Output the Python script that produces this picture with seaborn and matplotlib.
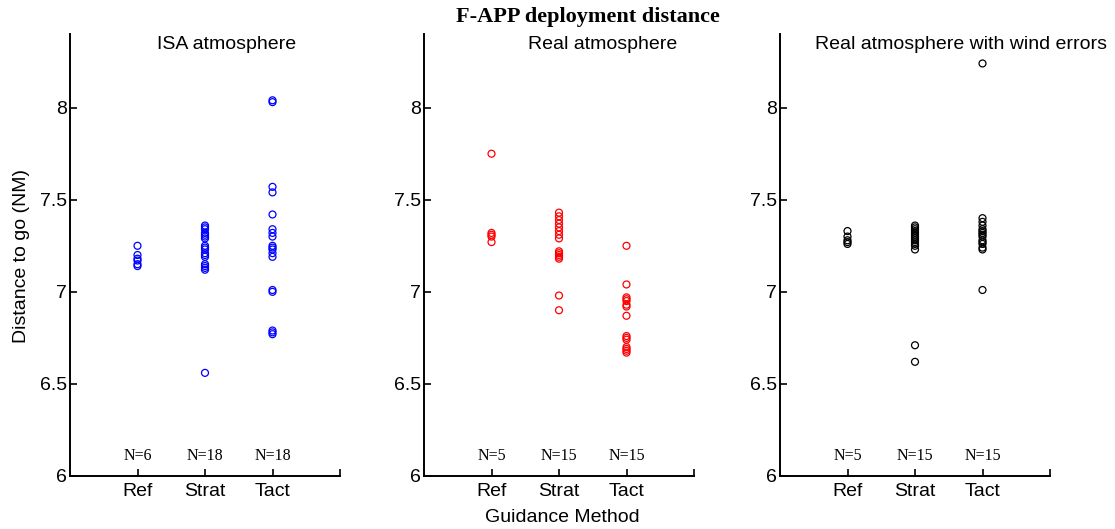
import numpy as np
import pandas as pd
import matplotlib
matplotlib.use("Agg")
import matplotlib.pyplot as plt
import seaborn as sns

sns.set_theme(style="white")
plt.rcParams['font.family'] = ['Liberation Sans', 'DejaVu Sans']
plt.rcParams['text.color'] = 'black'
plt.rcParams['axes.labelcolor'] = 'black'

methods = ["Ref", "Strat", "Tact"]
panel_titles = ["ISA atmosphere", "Real atmosphere", "Real atmosphere with wind errors"]
panel_colors = ["#0000ff", "#ff0000", "#000000"]

# Deployment distance (NM) per guidance method, ISA atmosphere
isa_ref = [7.25, 7.20, 7.18, 7.17, 7.15, 7.14]
isa_strat = [7.36, 7.35, 7.34, 7.32, 7.31, 7.30, 7.29, 7.25, 7.24, 7.23,
             7.21, 7.20, 7.19, 7.15, 7.14, 7.13, 7.12, 6.56]
isa_tact = [8.04, 8.03, 7.57, 7.54, 7.42, 7.34, 7.32, 7.30, 7.25, 7.24,
            7.23, 7.21, 7.19, 7.01, 7.00, 6.79, 6.78, 6.77]

# Real atmosphere
real_ref = [7.75, 7.32, 7.31, 7.30, 7.27]
real_strat = [7.43, 7.41, 7.39, 7.37, 7.35, 7.33, 7.31, 7.29, 7.22, 7.21,
              7.20, 7.19, 7.18, 6.98, 6.90]
real_tact = [7.25, 7.04, 6.97, 6.96, 6.95, 6.93, 6.92, 6.87, 6.76, 6.75,
             6.74, 6.70, 6.69, 6.68, 6.67]

# Real atmosphere with wind errors
wind_ref = [7.33, 7.30, 7.28, 7.27, 7.26]
wind_strat = [7.36, 7.35, 7.34, 7.33, 7.32, 7.31, 7.30, 7.29, 7.28, 7.27,
              7.26, 7.25, 7.23, 6.71, 6.62]
wind_tact = [8.24, 7.40, 7.38, 7.36, 7.34, 7.33, 7.32, 7.31, 7.30, 7.28,
             7.27, 7.26, 7.24, 7.23, 7.01]

panels = [
    [isa_ref, isa_strat, isa_tact],
    [real_ref, real_strat, real_tact],
    [wind_ref, wind_strat, wind_tact],
]

W, H = 1115, 529
fig = plt.figure(figsize=(W / 100, H / 100), dpi=100)

lefts = [70, 424, 780]
title_x = [0.58, 0.663, 0.669]
ax_w, top_px, bot_px = 270, 34, 476

for i, groups in enumerate(panels):
    ax = fig.add_axes([lefts[i] / W, 1 - bot_px / H, ax_w / W, (bot_px - top_px) / H])
    df = pd.DataFrame({
        "method": np.repeat(methods, [len(g) for g in groups]),
        "distance": np.concatenate(groups),
    })
    sns.stripplot(data=df, x="method", y="distance", order=methods, jitter=False,
                  color=panel_colors[i], marker="o", size=5, linewidth=0.9, ax=ax)
    for coll in ax.collections:
        coll.set_facecolor("none")
        coll.set_edgecolor(panel_colors[i])
        coll.set_linewidth(0.9)

    ax.set_xlim(-1, 3)
    ax.set_ylim(6, 8.4)
    ax.set_xticks([0, 1, 2, 3])
    ax.set_xticklabels(methods + [""])
    ax.set_yticks([6, 6.5, 7, 7.5, 8])
    ax.set_yticklabels(["6", "6.5", "7", "7.5", "8"])
    ax.set_xlabel("")
    ax.set_ylabel("")
    for side in ["top", "right"]:
        ax.spines[side].set_visible(False)
    for side in ["left", "bottom"]:
        ax.spines[side].set_linewidth(1.4)
        ax.spines[side].set_color("black")
    ax.tick_params(direction="in", length=5, width=1.2, labelsize=14,
                   colors="black", left=True, bottom=True, pad=5)
    ax.tick_params(axis="y", pad=2)

    ax.text(title_x[i], 0.977, panel_titles[i], transform=ax.transAxes,
            ha="center", va="center", fontsize=14, color="black")
    for j, g in enumerate(groups):
        ax.text(j, 6.11, f"N={len(g)}", ha="center", va="center", fontsize=11.5,
                family="Liberation Serif", color="black")

fig.text(588 / W, 1 - 17 / H, "F-APP deployment distance", ha="center", va="center",
         fontsize=16, fontweight="bold", family="Liberation Serif", color="black")
fig.text(22 / W, 1 - 256 / H, "Distance to go (NM)", rotation=90, ha="center",
         va="center", fontsize=14, color="black")
fig.text(562 / W, 1 - 517 / H, "Guidance Method", ha="center", va="center",
         fontsize=14, color="black")

fig.savefig("out.png", dpi=100, facecolor="white")
